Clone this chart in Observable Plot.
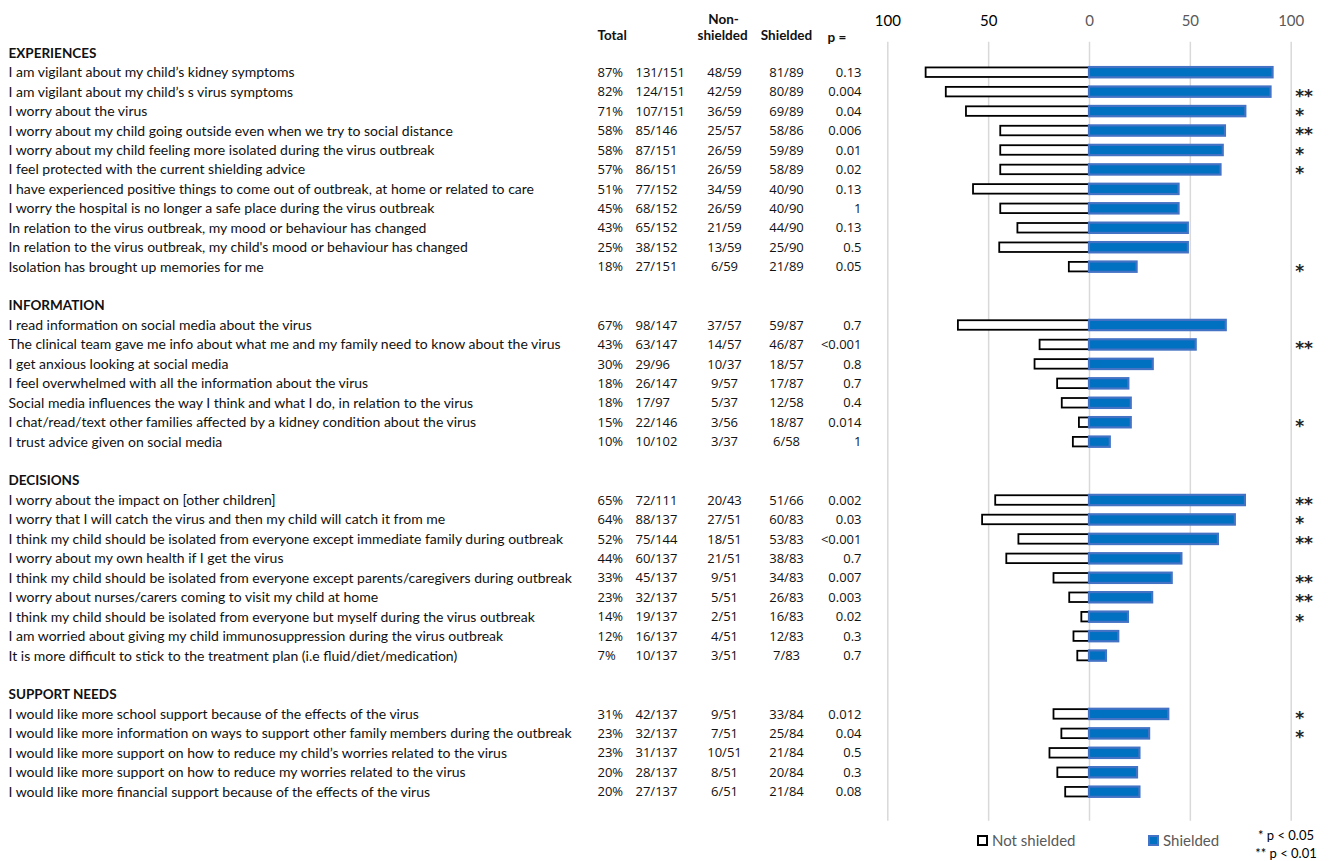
<!DOCTYPE html>
<html><head><meta charset="utf-8">
<script src="https://cdn.jsdelivr.net/npm/d3@7"></script>
<script src="https://cdn.jsdelivr.net/npm/@observablehq/plot@0.6"></script>
<style>
body{margin:0;background:#fff;font-family:Lato,sans-serif}
#wrap{position:relative;width:1331px;height:861px;overflow:hidden}
#legend{position:absolute;top:825px;left:0;width:1331px;height:36px;font-family:Lato,sans-serif;font-size:14px;color:#595959}
#legend .it{position:absolute;white-space:nowrap;line-height:1}
#legend .box{position:absolute;box-sizing:border-box}
</style></head><body><div id="wrap"><div id="chart"></div><div id="legend"></div></div>
<script>
const sectionNames = ["EXPERIENCES", "INFORMATION", "DECISIONS", "SUPPORT NEEDS"];
const sectionSizes = [11, 7, 9, 5];
const statements = [
"I am vigilant about my child’s kidney symptoms",
"I am vigilant about my child’s s virus symptoms",
"I worry about the virus",
"I worry about my child going outside even when we try to social distance",
"I worry about my child feeling more isolated during the virus outbreak",
"I feel protected with the current shielding advice",
"I have experienced positive things to come out of outbreak, at home or related to care",
"I worry the hospital is no longer a safe place during the virus outbreak",
"In relation to the virus outbreak, my mood or behaviour has changed",
"In relation to the virus outbreak, my child's mood or behaviour has changed",
"Isolation has brought up memories for me",
"I read information on social media about the virus",
"The clinical team gave me info about what me and my family need to know about the virus",
"I get anxious looking at social media",
"I feel overwhelmed with all the information about the virus",
"Social media influences the way I think and what I do, in relation to the virus",
"I chat/read/text other families affected by a kidney condition about the virus",
"I trust advice given on social media",
"I worry about the impact on [other children]",
"I worry that I will catch the virus and then my child will catch it from me",
"I think my child should be isolated from everyone except immediate family during outbreak",
"I worry about my own health if I get the virus",
"I think my child should be isolated from everyone except parents/caregivers during outbreak",
"I worry about nurses/carers coming to visit my child at home",
"I think my child should be isolated from everyone but myself during the virus outbreak",
"I am worried about giving my child immunosuppression during the virus outbreak",
"It is more difficult to stick to the treatment plan (i.e fluid/diet/medication)",
"I would like more school support because of the effects of the virus",
"I would like more information on ways to support other family members during the outbreak",
"I would like more support on how to reduce my child’s worries related to the virus",
"I would like more support on how to reduce my worries related to the virus",
"I would like more financial support because of the effects of the virus"
];
const totalPct = ["87%","82%","71%","58%","58%","57%","51%","45%","43%","25%","18%",
"67%","43%","30%","18%","18%","15%","10%",
"65%","64%","52%","44%","33%","23%","14%","12%","7%",
"31%","23%","23%","20%","20%"];
const totalFrac = ["131/151","124/151","107/151","85/146","87/151","86/151","77/152","68/152","65/152","38/152","27/151",
"98/147","63/147","29/96","26/147","17/97","22/146","10/102",
"72/111","88/137","75/144","60/137","45/137","32/137","19/137","16/137","10/137",
"42/137","32/137","31/137","28/137","27/137"];
const nonShieldedFrac = ["48/59","42/59","36/59","25/57","26/59","26/59","34/59","26/59","21/59","13/59","6/59",
"37/57","14/57","10/37","9/57","5/37","3/56","3/37",
"20/43","27/51","18/51","21/51","9/51","5/51","2/51","4/51","3/51",
"9/51","7/51","10/51","8/51","6/51"];
const shieldedFrac = ["81/89","80/89","69/89","58/86","59/89","58/89","40/90","40/90","44/90","25/90","21/89",
"59/87","46/87","18/57","17/87","12/58","18/87","6/58",
"51/66","60/83","53/83","38/83","34/83","26/83","16/83","12/83","7/83",
"33/84","25/84","21/84","20/84","21/84"];
const pValues = ["0.13","0.004","0.04","0.006","0.01","0.02","0.13","1","0.13","0.5","0.05",
"0.7","<0.001","0.8","0.7","0.4","0.014","1",
"0.002","0.03","<0.001","0.7","0.007","0.003","0.02","0.3","0.7",
"0.012","0.04","0.5","0.3","0.08"];
const significance = ["","**","*","**","*","*","","","","","*",
"","**","","","","*","",
"**","*","**","","**","**","*","","",
"*","*","","",""];
const nonShieldedBar = [81,71,61,44,44,44,57.5,44,35.5,44.5,10,
65,24.5,27,15.8,13.5,5,8,
46.5,53,35,41,17.6,9.8,3.8,7.7,5.8,
17.6,13.7,19.6,15.7,11.8];
const shieldedBar = [91,90,77.5,67.4,66.3,65.2,44.4,44.4,49,49,23.6,
67.8,52.9,31.6,19.5,20.7,20.7,10.3,
77.3,72.3,63.9,45.8,41,31.3,19.3,14.5,8.4,
39.3,29.8,25,23.8,25];
const tickValues = [-100, -50, 0, 50, 100];
const tickLabels = ["100", "50", "0", "50", "100"];

// build slot layout
const rows = [];
const headers = [];
let slot = 0, k = 0;
sectionNames.forEach((name, s) => {
  headers.push({name, slot});
  slot++;
  for (let j = 0; j < sectionSizes[s]; j++, k++, slot++) {
    rows.push({slot, label: statements[k], pct: totalPct[k], frac: totalFrac[k],
      ns: nonShieldedFrac[k], sh: shieldedFrac[k], p: pValues[k], sig: significance[k],
      nsv: nonShieldedBar[k], shv: shieldedBar[k]});
  }
  slot++;
});
const lastSlot = slot - 2;
const half = 0.245;

const fa = {frameAnchor: "left", fill: "#111"};
const num = {...fa, fontFamily: "Open Sans, sans-serif", fontSize: 13};
const chart = Plot.plot({
  width: 1331, height: 825, margin: 0,
  x: {domain: [-100, 100], range: [887.3, 1290.7], axis: null},
  y: {domain: [0, lastSlot], range: [52.75, 791.7], axis: null},
  style: {fontFamily: "Lato, sans-serif", fontSize: "14px", background: "#fff", color: "#000"},
  marks: [
    Plot.ruleX(tickValues, {x: d => d, y1: -0.57, y2: lastSlot + 1.49, stroke: "#d9d9d9", strokeWidth: 1.5}),
    Plot.text(tickValues, {x: d => d, y: -1.65, text: (d, i) => tickLabels[i], fontSize: 15,
      fill: d => d < 0 ? "#000" : "#595959"}),
    // column headers
    Plot.text(["Total"], {...fa, y: -0.88, text: d => d, dx: 597, textAnchor: "start", fontWeight: "bold", fontSize: 13.5}),
    Plot.text(["Non-"], {...fa, y: -1.75, text: d => d, dx: 723, textAnchor: "middle", fontWeight: "bold", fontSize: 13.5}),
    Plot.text(["shielded"], {...fa, y: -0.88, text: d => d, dx: 722, textAnchor: "middle", fontWeight: "bold", fontSize: 13.5}),
    Plot.text(["Shielded"], {...fa, y: -0.88, text: d => d, dx: 786, textAnchor: "middle", fontWeight: "bold", fontSize: 13.5}),
    Plot.text(["p ="], {...fa, y: -0.8, text: d => d, dx: 827, textAnchor: "start", fontWeight: "bold", fontSize: 13.5}),
    // section headers
    Plot.text(headers, {...fa, y: "slot", text: "name", dx: 8, textAnchor: "start", fontWeight: "bold", fontSize: 13.5}),
    // table columns
    Plot.text(rows, {...fa, y: "slot", text: "label", dx: 8, textAnchor: "start"}),
    Plot.text(rows, {...num, y: "slot", text: "pct", dx: 597, textAnchor: "start"}),
    Plot.text(rows, {...num, y: "slot", text: "frac", dx: 635, textAnchor: "start"}),
    Plot.text(rows, {...num, y: "slot", text: "ns", dx: 724, textAnchor: "middle"}),
    Plot.text(rows, {...num, y: "slot", text: "sh", dx: 786, textAnchor: "middle"}),
    Plot.text(rows, {...num, y: "slot", text: "p", dx: 861, textAnchor: "end"}),
    // bars
    Plot.rect(rows, {x1: d => -d.nsv, x2: 0, y1: d => d.slot - half, y2: d => d.slot + half,
      fill: "#fff", stroke: "#000", strokeWidth: 1.8}),
    Plot.rect(rows, {x1: 0, x2: "shv", y1: d => d.slot - half - 0.02, y2: d => d.slot + half + 0.02,
      fill: "#0070c0", stroke: "#4472c4", strokeWidth: 2.2}),
    // significance
    Plot.text(rows, {x: 100, y: "slot", text: "sig", dx: 4, dy: 4, textAnchor: "start", fill: "#222",
      fontSize: 17, fontWeight: "bold", fontFamily: "DejaVu Sans, sans-serif", letterSpacing: "0.5px"})
  ]
});
document.getElementById("chart").appendChild(chart);

// legend (HTML, below the SVG)
const legendItems = [
  {label: "Not shielded", left: 977, fill: "#fff", border: "2px solid #000"},
  {label: "Shielded", left: 1148, fill: "#0070c0", border: "2px solid #4472c4"}
];
const lg = document.getElementById("legend");
legendItems.forEach(it => {
  const b = document.createElement("div");
  b.className = "box";
  Object.assign(b.style, {left: it.left + "px", top: "10px", width: "11px", height: "11px", background: it.fill, border: it.border});
  lg.appendChild(b);
  const t = document.createElement("div");
  t.className = "it";
  t.textContent = it.label;
  Object.assign(t.style, {left: (it.left + 15) + "px", top: "8px", fontSize: "15px"});
  lg.appendChild(t);
});
const notes = ["* p < 0.05", "** p < 0.01"];
notes.forEach((n, i) => {
  const t = document.createElement("div");
  t.className = "it";
  t.textContent = n;
  Object.assign(t.style, {left: "1226px", width: "120px", textAlign: "center", top: (i === 0 ? 4 : 22) + "px", fontSize: "13px", color: "#000"});
  lg.appendChild(t);
});
</script></body></html>
